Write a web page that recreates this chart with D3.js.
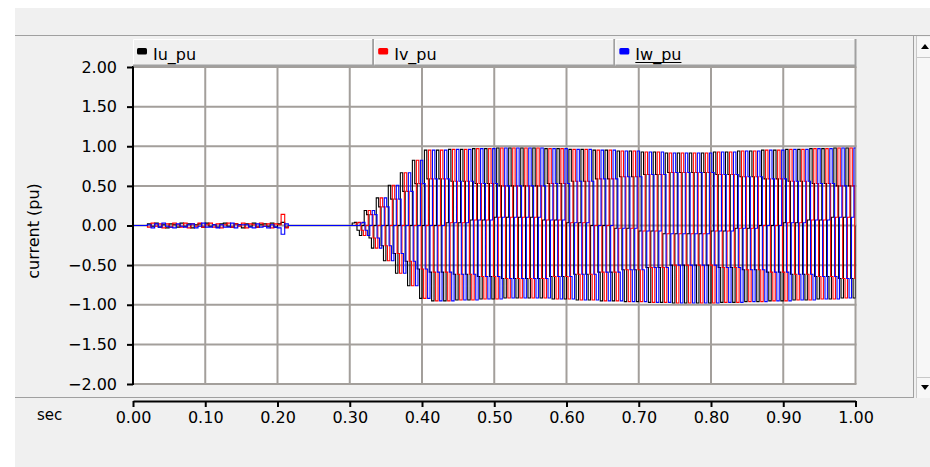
<!DOCTYPE html>
<html><head><meta charset="utf-8">
<script src="https://cdn.jsdelivr.net/npm/d3@7"></script>
<style>
html,body{margin:0;padding:0;background:#fff;}
svg{display:block;font-family:"DejaVu Sans",Verdana,sans-serif;}
</style></head><body>
<svg id="chart" width="930" height="467"></svg>
<script>
// ---------------- data ----------------
const seriesNames = ["Iu_pu", "Iv_pu", "Iw_pu"];
const seriesColors = ["#000000", "#ff0000", "#0000ff"];
const xTicks = [0.0, 0.1, 0.2, 0.3, 0.4, 0.5, 0.6, 0.7, 0.8, 0.9, 1.0];
const yTicks = [2.0, 1.5, 1.0, 0.5, 0.0, -0.5, -1.0, -1.5, -2.0];
const xLabel = "sec";
const yLabel = "current (pu)";

// small pre-start ripple, 0.020 s .. 0.215 s, one value per 5 ms
const noiseStart = 0.02, noiseStep = 0.005;
const iuNoise = [0.02,-0.01,0.03,-0.02,0.01,-0.03,0.02,0.01,-0.02,0.03,-0.01,0.02,-0.03,0.01,0.02,-0.02,0.03,-0.01,0.01,-0.02,0.02,0.03,-0.01,-0.02,0.02,0.01,-0.03,0.02,-0.01,0.03,-0.02,0.01,0.02,-0.01,0.03,-0.02,0.02,0.04,-0.02];
const ivNoise = [-0.02,0.03,-0.01,0.02,-0.03,0.02,-0.02,0.03,0.01,-0.02,0.03,-0.03,0.02,-0.01,0.03,-0.02,0.01,0.03,-0.02,0.02,-0.03,0.01,0.03,-0.02,0.02,-0.01,0.03,-0.03,0.02,0.01,-0.02,0.03,-0.01,0.02,-0.03,0.02,0.01,0.14,-0.03];
const iwNoise = [0.01,-0.03,0.02,-0.02,0.03,-0.01,-0.02,-0.03,0.02,-0.01,-0.02,0.01,0.02,-0.03,-0.01,0.03,-0.02,-0.02,0.01,-0.03,0.01,-0.02,-0.02,0.03,-0.03,0.01,0.01,0.01,-0.02,-0.03,0.02,-0.02,-0.01,-0.03,0.01,-0.02,-0.03,-0.11,0.02];

// sampled phase current (held steps) from 0.30 s to 1.00 s, one sample per 1/300 s
const waveStart = 0.30, waveStep = 1 / 300;
// the three phases carry the same samples, delayed by one third of a 60 Hz cycle
const phaseDelay = [0, 1 / 180, 2 / 180];
const waveSamples = [
  // build-up 0.30 .. 0.40 s
  0, 0.032, 0.039, -0.059, -0.127,
  0, 0.190, 0.137, -0.157, -0.285,
  0, 0.349, 0.235, -0.255, -0.444,
  0, 0.507, 0.333, -0.353, -0.602,
  0, 0.666, 0.431, -0.451, -0.761,
  0, 0.824, 0.529, -0.549, -0.920,
  // steady 0.40 .. 1.00 s
  0, 0.951, 0.588, -0.588, -0.951,   0, 0.951, 0.588, -0.588, -0.951,
  0.035, 0.961, 0.559, -0.616, -0.940,   0.035, 0.961, 0.559, -0.616, -0.940,
  0.070, 0.970, 0.530, -0.643, -0.927,   0.070, 0.970, 0.530, -0.643, -0.927,
  0.105, 0.978, 0.500, -0.669, -0.914,   0.105, 0.978, 0.500, -0.669, -0.914,
  0.105, 0.978, 0.500, -0.669, -0.914,   0.105, 0.978, 0.500, -0.669, -0.914,
  0.070, 0.970, 0.530, -0.643, -0.927,   0.070, 0.970, 0.530, -0.643, -0.927,
  0.035, 0.961, 0.559, -0.616, -0.940,   0.035, 0.961, 0.559, -0.616, -0.940,
  0, 0.951, 0.588, -0.588, -0.951,   0, 0.951, 0.588, -0.588, -0.951,
  -0.035, 0.940, 0.616, -0.559, -0.961,   -0.035, 0.940, 0.616, -0.559, -0.961,
  -0.070, 0.927, 0.643, -0.530, -0.970,   -0.070, 0.927, 0.643, -0.530, -0.970,
  -0.105, 0.914, 0.669, -0.500, -0.978,   -0.105, 0.914, 0.669, -0.500, -0.978,
  -0.105, 0.914, 0.669, -0.500, -0.978,   -0.105, 0.914, 0.669, -0.500, -0.978,
  -0.070, 0.927, 0.643, -0.530, -0.970,   -0.070, 0.927, 0.643, -0.530, -0.970,
  -0.035, 0.940, 0.616, -0.559, -0.961,   -0.035, 0.940, 0.616, -0.559, -0.961,
  0, 0.951, 0.588, -0.588, -0.951,   0, 0.951, 0.588, -0.588, -0.951,
  0.035, 0.961, 0.559, -0.616, -0.940,   0.035, 0.961, 0.559, -0.616, -0.940,
  0.070, 0.970, 0.530, -0.643, -0.927,   0.070, 0.970, 0.530, -0.643, -0.927,
  0.105, 0.978, 0.500, -0.669, -0.914,   0.105, 0.978, 0.500, -0.669, -0.914,
  0
];
const noiseSets = [iuNoise, ivNoise, iwNoise];

// ---------------- drawing ----------------
const svg = d3.select("#chart");
const W = 930, H = 467;
const plot = {left: 133, right: 855.5, top: 67, bottom: 384};
const gridColor = "#a39f9b";

svg.append("rect").attr("x", 0).attr("y", 0).attr("width", W).attr("height", H).attr("fill", "#ffffff");
svg.append("rect").attr("x", 15).attr("y", 8).attr("width", W - 15).attr("height", H - 8).attr("fill", "#f0f0f0");
// frame lines
svg.append("line").attr("x1", 15).attr("x2", W).attr("y1", 35.5).attr("y2", 35.5).attr("stroke", "#a0a0a0");
svg.append("line").attr("x1", 15).attr("x2", 914).attr("y1", 397.5).attr("y2", 397.5).attr("stroke", "#a0a0a0");
svg.append("line").attr("x1", 913.5).attr("x2", 913.5).attr("y1", 36).attr("y2", 398).attr("stroke", "#a0a0a0");
// scrollbar
svg.append("rect").attr("x", 917).attr("y", 37).attr("width", 13).attr("height", 361).attr("fill", "#f7f7f7");
svg.append("line").attr("x1", 916.5).attr("x2", 916.5).attr("y1", 36).attr("y2", 398).attr("stroke", "#c8c8c8");
svg.append("line").attr("x1", 917).attr("x2", W).attr("y1", 57.5).attr("y2", 57.5).attr("stroke", "#c8c8c8");
svg.append("line").attr("x1", 917).attr("x2", W).attr("y1", 377.5).attr("y2", 377.5).attr("stroke", "#c8c8c8");
svg.append("path").attr("d", "M921,49 L929,49 L925,44 Z").attr("fill", "#000");
svg.append("path").attr("d", "M921,385 L929,385 L925,390 Z").attr("fill", "#000");

const x = d3.scaleLinear().domain([0, 1]).range([plot.left, plot.right]);
const y = d3.scaleLinear().domain([-2, 2]).range([plot.bottom, plot.top]);

// plot background
svg.append("rect").attr("x", plot.left).attr("y", plot.top)
  .attr("width", plot.right - plot.left).attr("height", plot.bottom - plot.top).attr("fill", "#ffffff");

// grid
const grid = svg.append("g");
grid.selectAll("line.gx").data(xTicks.slice(1)).join("line")
  .attr("x1", d => x(d)).attr("x2", d => x(d)).attr("y1", plot.top).attr("y2", plot.bottom)
  .attr("stroke", gridColor).attr("stroke-width", 2);
grid.selectAll("line.gy").data(yTicks).join("line")
  .attr("x1", plot.left).attr("x2", plot.right + 1).attr("y1", d => y(d)).attr("y2", d => y(d))
  .attr("stroke", gridColor).attr("stroke-width", 2);

// traces
svg.append("clipPath").attr("id", "clip").append("rect")
  .attr("x", plot.left + 1).attr("y", plot.top).attr("width", plot.right - plot.left - 1).attr("height", plot.bottom - plot.top);
const line = d3.line().x(d => x(d[0])).y(d => y(d[1])).curve(d3.curveStepAfter);
const traces = svg.append("g").attr("clip-path", "url(#clip)");
seriesNames.forEach((name, i) => {
  const pts = [[0, 0]];
  noiseSets[i].forEach((v, j) => pts.push([noiseStart + j * noiseStep, v]));
  pts.push([noiseStart + noiseSets[i].length * noiseStep, 0]);
  waveSamples.forEach((v, k) => pts.push([waveStart + phaseDelay[i] + k * waveStep, v]));
  traces.append("path").datum(pts).attr("d", line)
    .attr("fill", "none").attr("stroke", seriesColors[i]).attr("stroke-width", 1.1);
});

// axes
const fmt = d3.format(".2f");
const yAxis = svg.append("g").attr("transform", `translate(${plot.left},0)`)
  .call(d3.axisLeft(y).tickValues(yTicks).tickFormat(fmt).tickSize(6).tickSizeOuter(0).tickPadding(10));
const xAxis = svg.append("g").attr("transform", `translate(0,401)`)
  .call(d3.axisBottom(x).tickValues(xTicks).tickFormat(fmt).tickSize(6).tickSizeOuter(0).tickPadding(5));
[yAxis, xAxis].forEach(a => {
  a.selectAll("path,line").attr("stroke", "#000").attr("stroke-width", 2);
  a.selectAll("text").attr("fill", "#000").style("font-size", "16px")
    .style("font-family", "'DejaVu Sans', Verdana, sans-serif");
});
yAxis.select("path").attr("d", `M0,${plot.top - 1}V${plot.bottom + 1}`);

svg.append("text").attr("x", 37).attr("y", 420).attr("font-size", 15).attr("fill", "#000").text(xLabel);
svg.append("text").attr("transform", "translate(39,231) rotate(-90)").attr("text-anchor", "middle")
  .attr("font-size", 16).attr("fill", "#000").text(yLabel);

// legend header cells
const cellW = (plot.right + 1 - plot.left) / 3;
seriesNames.forEach((name, i) => {
  const cx = plot.left + i * cellW;
  const g = svg.append("g");
  g.append("rect").attr("x", cx).attr("y", 39).attr("width", cellW).attr("height", 27).attr("fill", "#f0f0f0");
  g.append("path").attr("d", `M${cx + 0.5},65 V39.5 H${cx + cellW - 1}`).attr("stroke", "#ffffff").attr("fill", "none");
  g.append("path").attr("d", `M${cx + cellW - 1},39 V65.5 H${cx}`).attr("stroke", "#a0a0a0").attr("stroke-width", 2).attr("fill", "none");
  g.append("rect").attr("x", cx + 4).attr("y", 48).attr("width", 10).attr("height", 6.5).attr("rx", 1.5)
    .attr("fill", seriesColors[i]);
  const t = g.append("text").attr("x", cx + 20).attr("y", 60).attr("font-size", 16).attr("fill", "#000").text(name);
  if (i === 2) {
    const w = t.node().getComputedTextLength();
    g.append("line").attr("x1", cx + 20).attr("x2", cx + 20 + w).attr("y1", 62.5).attr("y2", 62.5)
      .attr("stroke", "#000").attr("stroke-width", 1.2);
  }
});
</script>
</body></html>
